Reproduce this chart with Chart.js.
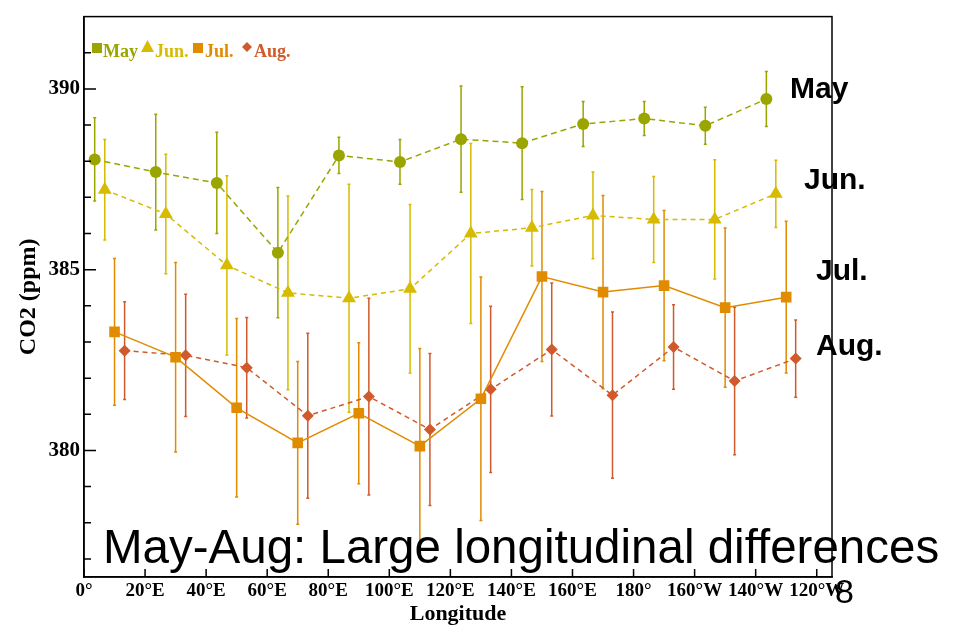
<!DOCTYPE html>
<html>
<head>
<meta charset="utf-8">
<script src="https://cdn.jsdelivr.net/npm/chart.js@4.4.1/dist/chart.umd.min.js"></script>
<style>
  body { margin: 0; background: #fff; }
  #wrap { width: 953px; height: 628px; }
</style>
</head>
<body>
<div id="wrap"><canvas id="co2" width="953" height="628"></canvas></div>
<script>
// longitude (deg east, 0..360) of each station group, CO2 ppm and +/- error
lonMay = [3.5, 23.5, 43.5, 63.5, 83.5, 103.5, 123.5, 143.5, 163.5, 183.5, 203.5, 223.5];
co2May = [388.05, 387.70, 387.40, 385.47, 388.16, 387.98, 388.61, 388.50, 389.03, 389.18, 388.98, 389.72];
errMay = [1.15, 1.6, 1.4, 1.8, 0.5, 0.62, 1.47, 1.56, 0.62, 0.47, 0.51, 0.76];

lonJun = [6.8, 26.8, 46.8, 66.8, 86.8, 106.8, 126.7, 146.7, 166.7, 186.6, 206.6, 226.6];
co2Jun = [387.21, 386.54, 385.12, 384.36, 384.21, 384.47, 386.0, 386.16, 386.50, 386.39, 386.39, 387.10];
errJun = [1.39, 1.65, 2.48, 2.68, 3.15, 2.33, 2.49, 1.06, 1.2, 1.19, 1.65, 0.93];

lonJul = [10, 30, 50, 70, 90, 110, 130, 150, 170, 190, 210, 230];
co2Jul = [383.28, 382.58, 381.18, 380.21, 381.03, 380.12, 381.43, 384.81, 384.38, 384.56, 383.95, 384.24];
errJul = [2.03, 2.62, 2.47, 2.25, 1.95, 2.7, 3.37, 2.35, 2.67, 2.08, 2.2, 2.1];

lonAug = [13.3, 33.3, 53.3, 73.3, 93.3, 113.3, 133.2, 153.2, 173.1, 193.1, 213.1, 233.1];
co2Aug = [382.76, 382.63, 382.29, 380.96, 381.49, 380.58, 381.69, 382.79, 381.53, 382.86, 381.92, 382.54];
errAug = [1.35, 1.69, 1.39, 2.28, 2.72, 2.1, 2.3, 1.84, 2.3, 1.17, 2.04, 1.07];

xTickValues = [0, 20, 40, 60, 80, 100, 120, 140, 160, 180, 200, 220, 240];
xTickLabels = ['0°', '20°E', '40°E', '60°E', '80°E', '100°E', '120°E', '140°E', '160°E', '180°', '160°W', '140°W', '120°W'];
yTickValues = [377, 378, 379, 380, 381, 382, 383, 384, 385, 386, 387, 388, 389, 390, 391];

serif = 'Liberation Serif';
sans = 'Liberation Sans';
colMay = '#9aa500';
colJun = '#d6bb00';
colJul = '#e08b00';
colAug = '#d05a2b';

function pts(lon, co2, err){
    out = [];
    for (i = 0; i < lon.length; i++) {
        out.push({x: lon[i], y: co2[i], err: err[i]});
    }
    return out;
}

function serie(label, data, color, style, radius, dash){
    return {
        label: label,
        data: data,
        borderColor: color,
        backgroundColor: color,
        pointBackgroundColor: color,
        pointBorderColor: color,
        pointBorderWidth: 0,
        pointStyle: style,
        pointRadius: radius,
        pointHoverRadius: radius,
        borderWidth: 1.5,
        borderDash: dash,
        showLine: true,
        tension: 0
    };
}

// vertical error bars, drawn under the markers
const errorBars = {
    id: 'errorBars',
    beforeDatasetsDraw(chart){
        const ctx = chart.ctx;
        const x = chart.scales.x, y = chart.scales.y;
        ctx.save();
        chart.data.datasets.forEach(ds => {
            ctx.strokeStyle = ds.borderColor;
            ctx.lineWidth = 1.5;
            ds.data.forEach(p => {
                const px = x.getPixelForValue(p.x);
                const top = y.getPixelForValue(p.y + p.err);
                const bot = y.getPixelForValue(p.y - p.err);
                ctx.beginPath();
                ctx.moveTo(px, top); ctx.lineTo(px, bot);
                ctx.moveTo(px - 1.5, top); ctx.lineTo(px + 1.5, top);
                ctx.moveTo(px - 1.5, bot); ctx.lineTo(px + 1.5, bot);
                ctx.stroke();
            });
        });
        ctx.restore();
    }
};

// frame, inward ticks, legend and slide text
const decorations = {
    id: 'decorations',
    afterDraw(chart){
        const ctx = chart.ctx;
        const a = chart.chartArea;
        const x = chart.scales.x, y = chart.scales.y;
        ctx.save();
        ctx.strokeStyle = '#000';
        ctx.lineWidth = 1.5;
        ctx.strokeRect(a.left, a.top, a.right - a.left, a.bottom - a.top);
        ctx.beginPath();
        y.ticks.forEach(t => {
            const py = y.getPixelForValue(t.value);
            const len = (t.value % 5 === 0) ? 12 : 7;
            ctx.moveTo(a.left, py); ctx.lineTo(a.left + len, py);
        });
        x.ticks.forEach(t => {
            const px = x.getPixelForValue(t.value);
            ctx.moveTo(px, a.bottom); ctx.lineTo(px, a.bottom - 8);
        });
        ctx.stroke();

        // legend
        ctx.textBaseline = 'alphabetic';
        ctx.font = 'bold 18px "' + serif + '"';
        ctx.fillStyle = colMay;
        ctx.fillRect(92, 43, 10, 10);
        ctx.fillText('May', 103, 57);
        ctx.fillStyle = colJun;
        ctx.beginPath(); ctx.moveTo(147.5, 40); ctx.lineTo(154, 52); ctx.lineTo(141, 52); ctx.closePath(); ctx.fill();
        ctx.fillText('Jun.', 155, 57);
        ctx.fillStyle = colJul;
        ctx.fillRect(193, 43, 10, 10);
        ctx.fillText('Jul.', 205, 57);
        ctx.fillStyle = colAug;
        ctx.beginPath(); ctx.moveTo(247, 42); ctx.lineTo(252, 47); ctx.lineTo(247, 52); ctx.lineTo(242, 47); ctx.closePath(); ctx.fill();
        ctx.fillText('Aug.', 254, 57);

        // month labels on the right
        ctx.fillStyle = '#000';
        ctx.font = 'bold 30px "' + sans + '"';
        ctx.fillText('May', 790, 98);
        ctx.fillText('Jun.', 804, 189);
        ctx.fillText('Jul.', 816, 280);
        ctx.fillText('Aug.', 816, 355);

        ctx.font = '47.5px "' + sans + '"';
        ctx.fillText('May-Aug: Large longitudinal differences', 103, 563);
        ctx.font = '34px "' + sans + '"';
        ctx.fillText('8', 835, 603);
        ctx.restore();
    }
};

const ctx = document.getElementById('co2');

new Chart(ctx, {
    type: 'scatter',
    data: {
        datasets: [
            serie('May', pts(lonMay, co2May, errMay), colMay, 'circle', 6, [6, 4]),
            serie('Jun.', pts(lonJun, co2Jun, errJun), colJun, 'triangle', 8, [5, 4]),
            serie('Jul.', pts(lonJul, co2Jul, errJul), colJul, 'rect', 7.5, []),
            serie('Aug.', pts(lonAug, co2Aug, errAug), colAug, 'rectRot', 6, [5, 4])
        ]
    },
    plugins: [errorBars, decorations],
    options: {
        responsive: false,
        animation: false,
        layout: { padding: { top: 11, right: 121, bottom: 0, left: 0 } },
        plugins: {
            legend: { display: false },
            tooltip: { enabled: false }
        },
        scales: {
            x: {
                type: 'linear',
                min: 0,
                max: 245,
                grid: { display: false, drawTicks: false },
                border: { display: true, color: '#000', width: 1.5 },
                afterBuildTicks: s => { s.ticks = xTickValues.map(v => ({value: v})); },
                afterFit: s => { s.height = 51; },
                ticks: {
                    autoSkip: false,
                    maxRotation: 0,
                    padding: 3,
                    color: '#000',
                    font: { family: serif, size: 19, weight: 'bold' },
                    callback: (v, i) => xTickLabels[i]
                },
                title: {
                    display: true,
                    text: 'Longitude',
                    color: '#000',
                    padding: { top: 0, bottom: 0 },
                    font: { family: serif, size: 22, weight: 'bold' }
                }
            },
            y: {
                min: 376.5,
                max: 392,
                grid: { display: false, drawTicks: false },
                border: { display: true, color: '#000', width: 1.5 },
                afterBuildTicks: s => { s.ticks = yTickValues.map(v => ({value: v})); },
                afterFit: s => { s.width = 84; },
                ticks: {
                    padding: 4,
                    color: '#000',
                    font: { family: serif, size: 21, weight: 'bold' },
                    callback: v => (v % 5 === 0 ? String(v) : '')
                },
                title: {
                    display: true,
                    text: 'CO2 (ppm)',
                    color: '#000',
                    padding: { top: 14, bottom: 0 },
                    font: { family: serif, size: 24, weight: 'bold' }
                }
            }
        }
    }
});
</script>
</body>
</html>
